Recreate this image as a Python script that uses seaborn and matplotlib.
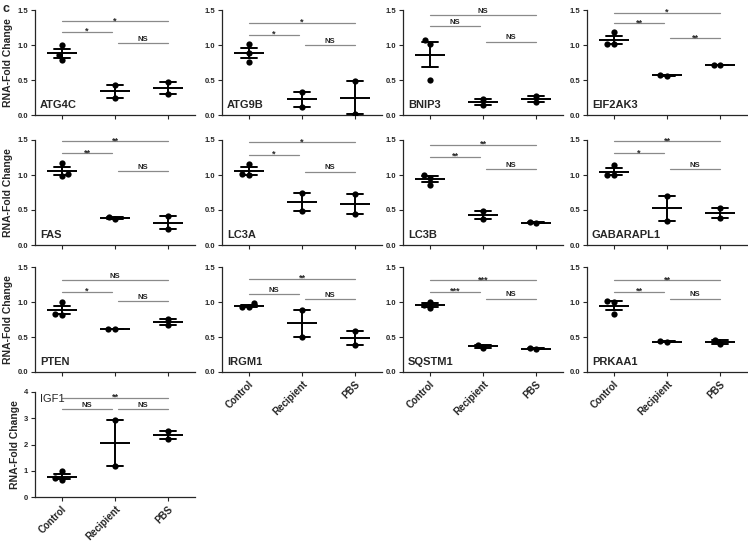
import numpy as np
import pandas as pd
import matplotlib
matplotlib.use('Agg')
import matplotlib.pyplot as plt
import seaborn as sns

groups = ['Control', 'Recipient', 'PBS']

# replicate RNA-fold change values, per group: Control (n=3), Recipient (n=2), PBS (n=2)
ATG4C = [[1.00, 0.86, 0.78], [0.43, 0.25], [0.47, 0.30]]
ATG9B = [[1.01, 0.89, 0.76], [0.33, 0.12], [0.48, 0.02]]
BNIP3 = [[1.07, 1.01, 0.50], [0.23, 0.14], [0.27, 0.18]]
EIF2AK3 = [[1.18, 1.01, 1.01], [0.56, 0.57], [0.72, 0.72]]
FAS = [[1.17, 0.98, 1.01], [0.40, 0.37], [0.41, 0.23]]
LC3A = [[1.16, 1.01, 1.00], [0.74, 0.48], [0.73, 0.44]]
LC3B = [[1.00, 0.96, 0.86], [0.48, 0.37], [0.33, 0.31]]
GABARAPL1 = [[1.15, 1.00, 1.00], [0.70, 0.35], [0.53, 0.38]]
PTEN = [[1.00, 0.82, 0.83], [0.61, 0.62], [0.76, 0.67]]
IRGM1 = [[0.98, 0.93, 0.93], [0.89, 0.50], [0.58, 0.39]]
SQSTM1 = [[1.00, 0.96, 0.91], [0.39, 0.34], [0.34, 0.33]]
PRKAA1 = [[1.02, 1.00, 0.83], [0.43, 0.44], [0.46, 0.40]]
IGF1 = [[0.98, 0.63, 0.71], [2.93, 1.20], [2.50, 2.22]]

genes = ['ATG4C', 'ATG9B', 'BNIP3', 'EIF2AK3', 'FAS', 'LC3A', 'LC3B',
         'GABARAPL1', 'PTEN', 'IRGM1', 'SQSTM1', 'PRKAA1', 'IGF1']
values = [ATG4C, ATG9B, BNIP3, EIF2AK3, FAS, LC3A, LC3B,
          GABARAPL1, PTEN, IRGM1, SQSTM1, PRKAA1, IGF1]

# significance: [Control vs PBS, Control vs Recipient, Recipient vs PBS]
significance = [
    ['*', '*', 'NS'], ['*', '*', 'NS'], ['NS', 'NS', 'NS'], ['*', '**', '**'],
    ['**', '**', 'NS'], ['*', '*', 'NS'], ['**', '**', 'NS'], ['**', '*', 'NS'],
    ['NS', '*', 'NS'], ['**', 'NS', 'NS'], ['***', '***', 'NS'], ['**', '**', 'NS'],
    ['**', 'NS', 'NS'],
]
# heights of the comparison lines (top, left, right)
bracket_y = [
    [1.34, 1.19, 1.03], [1.32, 1.15, 1.00], [1.43, 1.27, 1.05], [1.46, 1.31, 1.10],
    [1.48, 1.31, 1.06], [1.47, 1.29, 1.05], [1.43, 1.26, 1.08], [1.48, 1.31, 1.08],
    [1.31, 1.15, 1.02], [1.33, 1.12, 1.04], [1.31, 1.15, 1.05], [1.31, 1.15, 1.05],
    [3.78, 3.35, 3.35],
]

sns.set_style('ticks')
plt.rcParams['font.family'] = ['Liberation Sans', 'DejaVu Sans']
plt.rcParams['axes.linewidth'] = 0.9

W, H = 748, 545
col_left = [35, 222, 403, 587]
row_top = [10, 140, 267, 392]
ax_w, ax_h = 160, 105

fig = plt.figure(figsize=(W / 100, H / 100), dpi=100)

for i, gene in enumerate(genes):
    r, c = divmod(i, 4)
    ax = fig.add_axes([col_left[c] / W, 1 - (row_top[r] + ax_h) / H, ax_w / W, ax_h / H])

    df = pd.DataFrame({
        'group': [g for g, v in zip(groups, values[i]) for _ in v],
        'value': [x for v in values[i] for x in v],
    })

    # mean line with SEM error bars
    sns.pointplot(data=df, x='group', y='value', order=groups, errorbar='se',
                  capsize=0.3, color='black', linestyle='none', marker='_',
                  markersize=22, markeredgewidth=1.4,
                  err_kws={'linewidth': 1.4}, ax=ax)
    # individual replicates
    sns.swarmplot(data=df, x='group', y='value', order=groups, color='black',
                  size=4.5, ax=ax)

    ax.set_xlim(-0.5, 2.5)
    if gene == 'IGF1':
        ax.set_ylim(0, 4)
        ax.set_yticks([0, 1, 2, 3, 4])
        ax.set_yticklabels(['0', '1', '2', '3', '4'])
    else:
        ax.set_ylim(0, 1.5)
        ax.set_yticks([0, 0.5, 1.0, 1.5])
        ax.set_yticklabels(['0.0', '0.5', '1.0', '1.5'])
    for lab in ax.get_yticklabels():
        lab.set_fontweight('bold')
    ax.tick_params(axis='both', length=3, width=0.8, labelsize=5.5, pad=2)

    sns.despine(ax=ax)
    ax.set_xlabel('')
    if c == 0:
        ax.set_ylabel('RNA-Fold Change', fontsize=7.5, fontweight='bold', labelpad=3)
    else:
        ax.set_ylabel('')

    if i >= 9:
        ax.set_xticks([0, 1, 2])
        ax.set_xticklabels(groups, rotation=45, ha='right', rotation_mode='anchor',
                           fontsize=7, fontweight='bold')
    else:
        ax.set_xticklabels([])

    # gene name
    if gene == 'IGF1':
        ax.text(0.03, 0.93, gene, transform=ax.transAxes, fontsize=8,
                ha='left', va='center')
    else:
        ax.text(0.03, 0.05, gene, transform=ax.transAxes, fontsize=8,
                fontweight='bold', ha='left', va='bottom')

    # comparison lines
    spans = [(0, 2), (0, 0.95), (1.05, 2)]
    for (x0, x1), y, lab in zip(spans, bracket_y[i], significance[i]):
        ax.plot([x0, x1], [y, y], color='#8a8a8a', lw=0.9, clip_on=False)
        if lab == 'NS':
            off, fs = 1.5, 5.5
        else:
            off, fs = -1.5, 6.5
        ax.annotate(lab, xy=((x0 + x1) / 2, y), xytext=(0, off),
                    textcoords='offset points', ha='center', va='baseline',
                    fontsize=fs, fontweight='bold', annotation_clip=False)

fig.text(0.004, 0.995, 'c', fontsize=9, fontweight='bold', ha='left', va='top')

fig.savefig('out.png', dpi=100)
